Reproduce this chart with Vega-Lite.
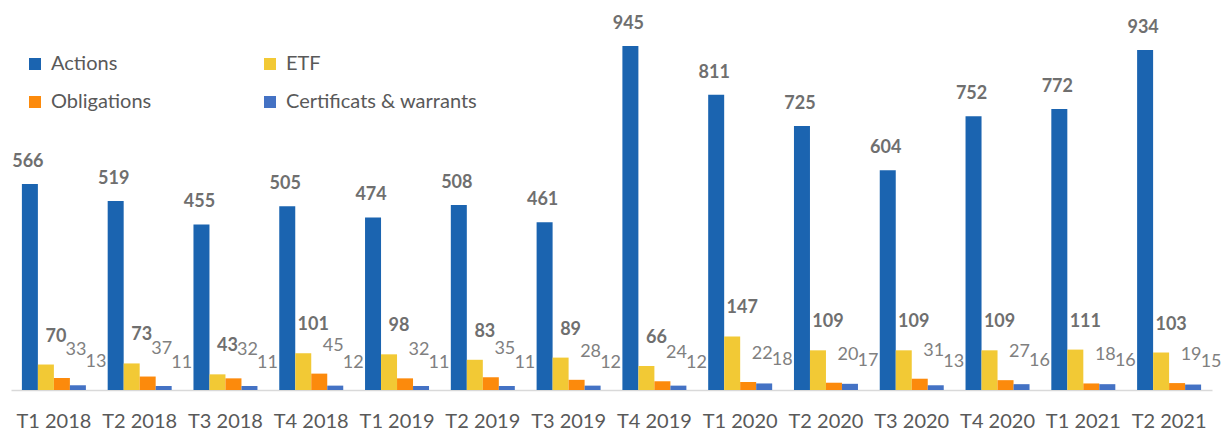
{
  "$schema": "https://vega.github.io/schema/vega-lite/v6.json",
  "width": 1201,
  "height": 364,
  "autosize": {"type": "none"},
  "padding": {"left": 11, "top": 26, "right": 17, "bottom": 41},
  "background": "white",
  "config": {"view": {"stroke": null}, "font": "Lato"},
  "data": {"values": [
    {"q": "T1 2018", "s": "Actions", "v": 566}, {"q": "T1 2018", "s": "ETF", "v": 70}, {"q": "T1 2018", "s": "Obligations", "v": 33}, {"q": "T1 2018", "s": "Certificats & warrants", "v": 13},
    {"q": "T2 2018", "s": "Actions", "v": 519}, {"q": "T2 2018", "s": "ETF", "v": 73}, {"q": "T2 2018", "s": "Obligations", "v": 37}, {"q": "T2 2018", "s": "Certificats & warrants", "v": 11},
    {"q": "T3 2018", "s": "Actions", "v": 455}, {"q": "T3 2018", "s": "ETF", "v": 43}, {"q": "T3 2018", "s": "Obligations", "v": 32}, {"q": "T3 2018", "s": "Certificats & warrants", "v": 11},
    {"q": "T4 2018", "s": "Actions", "v": 505}, {"q": "T4 2018", "s": "ETF", "v": 101}, {"q": "T4 2018", "s": "Obligations", "v": 45}, {"q": "T4 2018", "s": "Certificats & warrants", "v": 12},
    {"q": "T1 2019", "s": "Actions", "v": 474}, {"q": "T1 2019", "s": "ETF", "v": 98}, {"q": "T1 2019", "s": "Obligations", "v": 32}, {"q": "T1 2019", "s": "Certificats & warrants", "v": 11},
    {"q": "T2 2019", "s": "Actions", "v": 508}, {"q": "T2 2019", "s": "ETF", "v": 83}, {"q": "T2 2019", "s": "Obligations", "v": 35}, {"q": "T2 2019", "s": "Certificats & warrants", "v": 11},
    {"q": "T3 2019", "s": "Actions", "v": 461}, {"q": "T3 2019", "s": "ETF", "v": 89}, {"q": "T3 2019", "s": "Obligations", "v": 28}, {"q": "T3 2019", "s": "Certificats & warrants", "v": 12},
    {"q": "T4 2019", "s": "Actions", "v": 945}, {"q": "T4 2019", "s": "ETF", "v": 66}, {"q": "T4 2019", "s": "Obligations", "v": 24}, {"q": "T4 2019", "s": "Certificats & warrants", "v": 12},
    {"q": "T1 2020", "s": "Actions", "v": 811}, {"q": "T1 2020", "s": "ETF", "v": 147}, {"q": "T1 2020", "s": "Obligations", "v": 22}, {"q": "T1 2020", "s": "Certificats & warrants", "v": 18},
    {"q": "T2 2020", "s": "Actions", "v": 725}, {"q": "T2 2020", "s": "ETF", "v": 109}, {"q": "T2 2020", "s": "Obligations", "v": 20}, {"q": "T2 2020", "s": "Certificats & warrants", "v": 17},
    {"q": "T3 2020", "s": "Actions", "v": 604}, {"q": "T3 2020", "s": "ETF", "v": 109}, {"q": "T3 2020", "s": "Obligations", "v": 31}, {"q": "T3 2020", "s": "Certificats & warrants", "v": 13},
    {"q": "T4 2020", "s": "Actions", "v": 752}, {"q": "T4 2020", "s": "ETF", "v": 109}, {"q": "T4 2020", "s": "Obligations", "v": 27}, {"q": "T4 2020", "s": "Certificats & warrants", "v": 16},
    {"q": "T1 2021", "s": "Actions", "v": 772}, {"q": "T1 2021", "s": "ETF", "v": 111}, {"q": "T1 2021", "s": "Obligations", "v": 18}, {"q": "T1 2021", "s": "Certificats & warrants", "v": 16},
    {"q": "T2 2021", "s": "Actions", "v": 934}, {"q": "T2 2021", "s": "ETF", "v": 103}, {"q": "T2 2021", "s": "Obligations", "v": 19}, {"q": "T2 2021", "s": "Certificats & warrants", "v": 15}
  ]},
  "encoding": {
    "x": {"field": "q", "type": "nominal", "sort": null,
      "scale": {"paddingInner": 0.254, "paddingOuter": 0.127},
      "axis": {"title": null, "labelAngle": 0, "ticks": false, "domainColor": "#d9d9d9", "domainWidth": 1.5, "labelFontSize": 20, "labelColor": "#595959", "labelPadding": 21, "labelFont": "Lato"}},
    "xOffset": {"field": "s", "type": "nominal", "sort": ["Actions", "ETF", "Obligations", "Certificats & warrants"], "scale": {"paddingInner": 0, "paddingOuter": 0}},
    "y": {"field": "v", "type": "quantitative", "scale": {"domain": [0, 1000]}, "axis": null}
  },
  "layer": [
    {"mark": {"type": "bar"},
     "encoding": {"color": {"field": "s", "type": "nominal",
       "scale": {"domain": ["Actions", "Obligations", "ETF", "Certificats & warrants"], "range": ["#1B64B0", "#FC8A0C", "#F2C935", "#4472C4"]},
       "legend": {"orient": "none", "legendX": 14, "legendY": 28, "columns": 2, "columnPadding": 108, "rowPadding": 18, "symbolType": "square", "symbolSize": 144, "symbolStrokeWidth": 0, "labelFontSize": 20, "labelColor": "#595959", "labelFont": "Lato", "labelLimit": 400, "title": null, "labelOffset": 6, "padding": 0}}}},
    {"transform": [{"filter": "datum.s === 'Actions'"}],
     "mark": {"type": "text", "baseline": "middle", "dy": -22, "dx": -2, "fontWeight": "bold", "fontSize": 18, "color": "#6f6f6f", "font": "Lato"},
     "encoding": {"text": {"field": "v", "type": "quantitative"}}},
    {"transform": [{"filter": "datum.s === 'ETF'"}],
     "mark": {"type": "text", "baseline": "middle", "dy": -28, "dx": 10, "fontWeight": "bold", "fontSize": 18, "color": "#6f6f6f", "font": "Lato"},
     "encoding": {"text": {"field": "v", "type": "quantitative"}}},
    {"transform": [{"filter": "datum.s === 'Obligations'"}],
     "mark": {"type": "text", "baseline": "middle", "dy": -28, "dx": 14, "fontSize": 18, "color": "#808080", "font": "Lato"},
     "encoding": {"text": {"field": "v", "type": "quantitative"}}},
    {"transform": [{"filter": "datum.s === 'Certificats & warrants'"}],
     "mark": {"type": "text", "baseline": "middle", "dy": -23, "dx": 18, "fontSize": 18, "color": "#808080", "font": "Lato"},
     "encoding": {"text": {"field": "v", "type": "quantitative"}}}
  ]
}
